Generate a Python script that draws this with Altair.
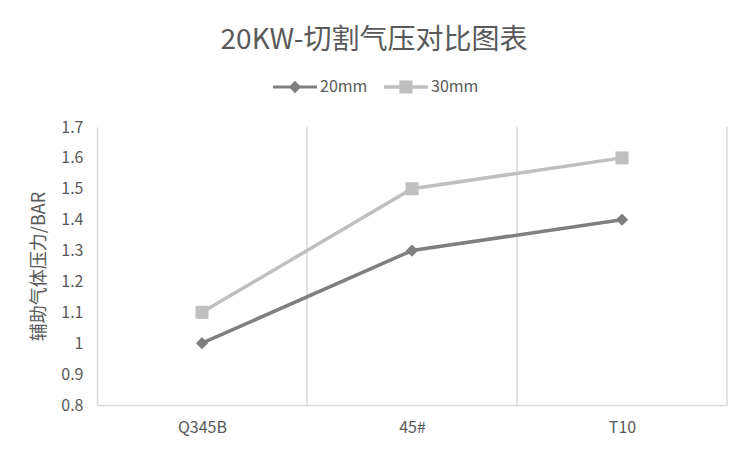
import altair as alt
import pandas as pd

categories = ["Q345B", "45#", "T10"]
series_names = ["20mm", "30mm"]
values_20mm = [1.0, 1.3, 1.4]
values_30mm = [1.1, 1.5, 1.6]
y_ticks = [0.8, 0.9, 1.0, 1.1, 1.2, 1.3, 1.4, 1.5, 1.6, 1.7]
boundaries = [1, 2, 3]

rows = []
for i, c in enumerate(categories):
    rows.append({"cat": c, "pos": i + 0.5, "series": "20mm", "value": values_20mm[i]})
    rows.append({"cat": c, "pos": i + 0.5, "series": "30mm", "value": values_30mm[i]})
df = pd.DataFrame(rows)
bdf = pd.DataFrame({"b": boundaries})

FONT = "Noto Sans CJK SC"
TXT = "#595959"
GRID = "#d9d9d9"
colors = ["#7f7f7f", "#bfbfbf"]

label_expr = "[" + ",".join("'" + c + "'" for c in categories) + "][floor(datum.value)]"

xscale = alt.Scale(domain=[0, 3], nice=False, zero=False)
yscale = alt.Scale(domain=[0.8, 1.7], nice=False, zero=False)

x_enc = alt.X("pos:Q", scale=xscale,
              axis=alt.Axis(values=[0.5, 1.5, 2.5], labelExpr=label_expr, title=None,
                            grid=False, ticks=False, domain=True, domainColor=GRID,
                            domainWidth=1.5, labelPadding=14, labelFontSize=16,
                            labelColor=TXT, labelFont=FONT))
y_enc = alt.Y("value:Q", scale=yscale,
              axis=alt.Axis(values=y_ticks, format="~g", title="辅助气体压力/BAR",
                            grid=False, ticks=False, domain=True, domainColor=GRID,
                            domainWidth=1.5, labelPadding=14, labelFontSize=16,
                            labelColor=TXT, labelFont=FONT, titleFont=FONT,
                            titleFontSize=18, titleColor=TXT, titleFontWeight="normal",
                            titlePadding=12))

legend_spec = alt.Legend(title=None, orient="none", direction="horizontal",
                         legendX=176, legendY=-62,
                         symbolSize=1936, symbolOpacity=1,
                         symbolStrokeWidth=0,
                         labelFontSize=16,
                         labelColor=TXT, labelFont=FONT, labelOffset=3,
                         columnPadding=16)
color_scale = alt.Scale(domain=series_names, range=colors)
color_enc = alt.Color("series:N", scale=color_scale, legend=legend_spec)

rules = alt.Chart(bdf).mark_rule(color=GRID, strokeWidth=1.5).encode(
    x=alt.X("b:Q", scale=xscale)
)

lines = alt.Chart(df).mark_line(strokeWidth=3.5).encode(
    x=x_enc, y=y_enc, color=color_enc, order="pos:Q",
)

pts20 = alt.Chart(df).transform_filter(alt.datum.series == "20mm").mark_point(
    filled=True, size=150, opacity=1, shape="diamond").encode(
    x=x_enc, y=y_enc, color=color_enc,
)
pts30 = alt.Chart(df).transform_filter(alt.datum.series == "30mm").mark_point(
    filled=True, size=170, opacity=1, shape="square").encode(
    x=x_enc, y=y_enc, color=color_enc,
)

path20 = "M-1,-0.07L1,-0.07L1,0.07L-1,0.07Z M0,-0.28L0.28,0L0,0.28L-0.28,0Z"
path30 = "M-1,-0.08L1,-0.08L1,0.08L-1,0.08Z M-0.3,-0.3L0.3,-0.3L0.3,0.3L-0.3,0.3Z"

legend_layer = alt.Chart(df).mark_point(filled=True, size=10, opacity=0).encode(
    x=x_enc, y=y_enc,
    color=color_enc,
    shape=alt.Shape("series:N", scale=alt.Scale(domain=series_names, range=[path20, path30]),
                    legend=legend_spec),
)

chart = alt.layer(rules, lines, pts20, pts30, legend_layer).properties(
    width=630, height=278,
    title=alt.TitleParams("20KW-切割气压对比图表", font=FONT, fontSize=28, color=TXT,
                          fontWeight="normal", anchor="middle", dx=-38, offset=10),
    autosize=alt.AutoSizeParams(type="none"),
    padding={"left": 89, "top": 119, "right": 17, "bottom": 40},
    background="white",
).configure_view(stroke=None)

chart.save("out.html", embed_options={"renderer": "svg", "actions": False})
